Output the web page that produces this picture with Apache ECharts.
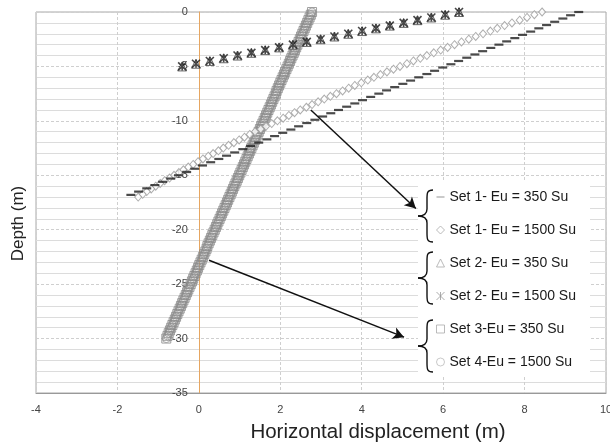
<!DOCTYPE html>
<html>
<head>
<meta charset="utf-8">
<script src="https://cdn.jsdelivr.net/npm/echarts@6/dist/echarts.min.js"></script>
<style>
  html, body { margin: 0; padding: 0; background: #fff; }
  #chart { width: 610px; height: 442px; }
</style>
</head>
<body>
<div id="chart"></div>
<script>
// depth (m) and horizontal displacement (m)
const set1Eu350Depth = [0, -0.3, -0.6, -0.9, -1.2, -1.5, -1.8, -2.1, -2.4, -2.7,
  -3, -3.3, -3.6, -3.9, -4.2, -4.5, -4.8, -5.1, -5.4, -5.7,
  -6, -6.3, -6.6, -6.9, -7.2, -7.5, -7.8, -8.1, -8.4, -8.7,
  -9, -9.3, -9.6, -9.9, -10.2, -10.5, -10.8, -11.1, -11.4, -11.7,
  -12, -12.3, -12.6, -12.9, -13.2, -13.5, -13.8, -14.1, -14.4, -14.7,
  -15, -15.3, -15.6, -15.9, -16.2, -16.5, -16.8];
const set1Eu350X = [9.33, 9.13, 8.94, 8.74, 8.54, 8.35, 8.15, 7.95, 7.76, 7.56,
  7.37, 7.17, 6.97, 6.78, 6.58, 6.38, 6.19, 5.99, 5.79, 5.60,
  5.40, 5.20, 5.01, 4.81, 4.61, 4.42, 4.22, 4.02, 3.83, 3.63,
  3.43, 3.24, 3.04, 2.85, 2.65, 2.45, 2.26, 2.06, 1.86, 1.67,
  1.47, 1.27, 1.08, 0.88, 0.68, 0.49, 0.29, 0.09, -0.10, -0.30,
  -0.50, -0.69, -0.89, -1.08, -1.28, -1.48, -1.67];

const set1Eu1500Depth = [0, -0.25, -0.5, -0.75, -1, -1.25, -1.5, -1.75, -2, -2.25,
  -2.5, -2.75, -3, -3.25, -3.5, -3.75, -4, -4.25, -4.5, -4.75,
  -5, -5.25, -5.5, -5.75, -6, -6.25, -6.5, -6.75, -7, -7.25,
  -7.5, -7.75, -8, -8.25, -8.5, -8.75, -9, -9.25, -9.5, -9.75,
  -10, -10.25, -10.5, -10.75, -11, -11.25, -11.5, -11.75, -12, -12.25,
  -12.5, -12.75, -13, -13.25, -13.5, -13.75, -14, -14.25, -14.5, -14.75,
  -15, -15.25, -15.5, -15.75, -16, -16.25, -16.5, -16.75, -17];
const set1Eu1500X = [8.43, 8.24, 8.06, 7.88, 7.69, 7.51, 7.33, 7.16, 6.98, 6.80,
  6.63, 6.45, 6.28, 6.11, 5.94, 5.77, 5.60, 5.44, 5.27, 5.11,
  4.94, 4.78, 4.62, 4.46, 4.30, 4.15, 3.99, 3.83, 3.68, 3.53,
  3.38, 3.23, 3.08, 2.93, 2.78, 2.64, 2.49, 2.35, 2.21, 2.07,
  1.93, 1.79, 1.65, 1.52, 1.38, 1.25, 1.12, 0.99, 0.86, 0.73,
  0.60, 0.48, 0.35, 0.23, 0.10, -0.02, -0.14, -0.26, -0.38, -0.49,
  -0.61, -0.72, -0.84, -0.95, -1.06, -1.17, -1.28, -1.38, -1.49];

// set 2: both moduli plot on the same points
const set2Depth = [0, -0.25, -0.5, -0.75, -1, -1.25, -1.5, -1.75, -2, -2.25,
  -2.5, -2.75, -3, -3.25, -3.5, -3.75, -4, -4.25, -4.5, -4.75, -5];
const set2Eu350X = [6.39, 6.05, 5.71, 5.37, 5.03, 4.69, 4.35, 4.01, 3.67, 3.33,
  2.99, 2.65, 2.31, 1.97, 1.63, 1.29, 0.95, 0.61, 0.27, -0.07, -0.41];
const set2Eu1500X = [6.39, 6.05, 5.71, 5.37, 5.03, 4.69, 4.35, 4.01, 3.67, 3.33,
  2.99, 2.65, 2.31, 1.97, 1.63, 1.29, 0.95, 0.61, 0.27, -0.07, -0.41];

// sets 3 and 4 overlap into one grey band
const set34Depth = [0, -0.25, -0.5, -0.75, -1, -1.25, -1.5, -1.75, -2, -2.25,
  -2.5, -2.75, -3, -3.25, -3.5, -3.75, -4, -4.25, -4.5, -4.75,
  -5, -5.25, -5.5, -5.75, -6, -6.25, -6.5, -6.75, -7, -7.25,
  -7.5, -7.75, -8, -8.25, -8.5, -8.75, -9, -9.25, -9.5, -9.75,
  -10, -10.25, -10.5, -10.75, -11, -11.25, -11.5, -11.75, -12, -12.25,
  -12.5, -12.75, -13, -13.25, -13.5, -13.75, -14, -14.25, -14.5, -14.75,
  -15, -15.25, -15.5, -15.75, -16, -16.25, -16.5, -16.75, -17, -17.25,
  -17.5, -17.75, -18, -18.25, -18.5, -18.75, -19, -19.25, -19.5, -19.75,
  -20, -20.25, -20.5, -20.75, -21, -21.25, -21.5, -21.75, -22, -22.25,
  -22.5, -22.75, -23, -23.25, -23.5, -23.75, -24, -24.25, -24.5, -24.75,
  -25, -25.25, -25.5, -25.75, -26, -26.25, -26.5, -26.75, -27, -27.25,
  -27.5, -27.75, -28, -28.25, -28.5, -28.75, -29, -29.25, -29.5, -29.75, -30];
const set3Eu350X = [2.78, 2.75, 2.72, 2.69, 2.66, 2.63, 2.60, 2.57, 2.54, 2.51,
  2.48, 2.45, 2.42, 2.39, 2.36, 2.33, 2.30, 2.27, 2.24, 2.21,
  2.18, 2.15, 2.12, 2.09, 2.06, 2.03, 2.00, 1.97, 1.94, 1.91,
  1.89, 1.86, 1.83, 1.80, 1.77, 1.74, 1.71, 1.68, 1.65, 1.62,
  1.59, 1.56, 1.53, 1.50, 1.47, 1.44, 1.41, 1.38, 1.35, 1.32,
  1.29, 1.26, 1.23, 1.20, 1.17, 1.14, 1.11, 1.08, 1.05, 1.02,
  0.99, 0.96, 0.93, 0.90, 0.87, 0.84, 0.81, 0.78, 0.75, 0.72,
  0.69, 0.66, 0.63, 0.60, 0.57, 0.54, 0.51, 0.48, 0.45, 0.42,
  0.39, 0.36, 0.33, 0.30, 0.27, 0.24, 0.21, 0.19, 0.16, 0.13,
  0.10, 0.07, 0.04, 0.01, -0.02, -0.05, -0.08, -0.11, -0.14, -0.17,
  -0.20, -0.23, -0.26, -0.29, -0.32, -0.35, -0.38, -0.41, -0.44, -0.47,
  -0.50, -0.53, -0.56, -0.59, -0.62, -0.65, -0.68, -0.71, -0.74, -0.77, -0.80];
const set4Eu1500X = set3Eu350X;

const seriesNames = ['Set 1- Eu = 350 Su', 'Set 1- Eu = 1500 Su', 'Set 2- Eu = 350 Su',
  'Set 2- Eu = 1500 Su', 'Set 3-Eu = 350 Su', 'Set 4-Eu = 1500 Su'];

// arrow annotations, [x, depth] start -> end
const arrows = [
  [[2.75, -9.0], [5.33, -18.05]],
  [[0.25, -22.8], [5.04, -29.87]]
];

const FONT = 'Liberation Sans, Arial, sans-serif';
const zip = (xs, ds) => xs.map((x, i) => [x, ds[i]]);
const ASTERISK = 'path://M0,0L10,10M10,0L0,10M5,0L5,10';

const WIDTH = 610;
const GRID_LEFT = 36;
const GRID_RIGHT = 4;
const X_MIN = -4, X_MAX = 10;
// the depth axis sits on x = 0, like the excel original
const Y_AXIS_SHIFT = -(WIDTH - GRID_LEFT - GRID_RIGHT) * (0 - X_MIN) / (X_MAX - X_MIN);

// curly brace drawn left of each legend pair
const braceStyle = { fill: 'none', stroke: '#111', lineWidth: 1.4 };
const brace = (x, top, bottom) => {
  const mid = (top + bottom) / 2;
  const curve = (x1, y1, cx1, cy1, cx2, cy2, x2, y2) => ({
    type: 'bezierCurve', z: 100,
    shape: { x1, y1, cpx1: cx1, cpy1: cy1, cpx2: cx2, cpy2: cy2, x2, y2 },
    style: braceStyle
  });
  const line = (x1, y1, x2, y2) => ({ type: 'line', z: 100, shape: { x1, y1, x2, y2 }, style: braceStyle });
  return [
    curve(x + 7, top, x + 1, top, x + 1, top + 3, x + 1, top + 9),
    line(x + 1, top + 9, x + 1, mid - 7),
    curve(x + 1, mid - 7, x + 1, mid - 2, x - 2, mid, x - 8, mid),
    curve(x - 8, mid, x - 2, mid, x + 1, mid + 2, x + 1, mid + 7),
    line(x + 1, mid + 7, x + 1, bottom - 9),
    curve(x + 1, bottom - 9, x + 1, bottom - 3, x + 1, bottom, x + 7, bottom)
  ];
};
const braces = [[190, 242], [252, 304], [320, 372]];

const chart = echarts.init(document.getElementById('chart'), null, { renderer: 'canvas' });

chart.setOption({
  animation: false,
  backgroundColor: '#fff',
  grid: {
    left: GRID_LEFT, right: GRID_RIGHT, top: 12, bottom: 49,
    containLabel: false,
    outerBoundsMode: 'none',
    show: true, borderColor: '#a8a8a8', borderWidth: 1
  },
  xAxis: {
    type: 'value', min: X_MIN, max: X_MAX, interval: 2,
    axisLine: { onZero: false, lineStyle: { color: '#999' } },
    axisTick: { show: false },
    axisLabel: { fontSize: 11, color: '#444', fontFamily: FONT, margin: 11 },
    splitLine: { lineStyle: { color: '#cfcfcf', type: [3, 2] } },
    name: 'Horizontal displacement (m)',
    nameLocation: 'middle',
    nameGap: 29,
    nameTextStyle: { fontSize: 20.5, color: '#222', fontFamily: FONT, padding: [0, 0, 0, 114] }
  },
  yAxis: {
    type: 'value', min: -35, max: 0, interval: 5,
    offset: Y_AXIS_SHIFT,
    axisLine: { onZero: false, lineStyle: { color: '#e6a661', width: 1 } },
    axisTick: { show: false },
    axisLabel: { fontSize: 11, color: '#444', fontFamily: FONT, margin: 11 },
    splitLine: { lineStyle: { color: '#cfcfcf', type: [3, 2] } },
    minorTick: { show: false, splitNumber: 5 },
    minorSplitLine: { show: true, lineStyle: { color: '#dcdcdc', width: 1 } },
    name: 'Depth (m)',
    nameLocation: 'middle',
    nameGap: 172,
    nameTextStyle: { fontSize: 17, color: '#222', fontFamily: FONT, padding: [0, 42, 0, 0] }
  },
  legend: {
    orient: 'vertical',
    left: 418, top: 182,
    padding: [8, 14, 8, 16],
    backgroundColor: '#fff',
    itemWidth: 8, itemHeight: 8,
    itemGap: 19,
    selectedMode: false,
    textStyle: { fontSize: 14, color: '#1a1a1a', fontFamily: FONT, lineHeight: 14 },
    data: [
      { name: seriesNames[0], icon: 'path://M0,0H10V1.4H0Z', itemStyle: { color: '#888', borderWidth: 0 } },
      { name: seriesNames[1], icon: 'diamond', itemStyle: { color: '#fff', borderColor: '#aaa', borderWidth: 1 } },
      { name: seriesNames[2], icon: 'triangle', itemStyle: { color: '#fff', borderColor: '#aaa', borderWidth: 1 } },
      { name: seriesNames[3], icon: ASTERISK, itemStyle: { color: 'none', borderColor: '#999', borderWidth: 1 } },
      { name: seriesNames[4], icon: 'rect', itemStyle: { color: '#fff', borderColor: '#aaa', borderWidth: 1 } },
      { name: seriesNames[5], icon: 'circle', itemStyle: { color: '#fff', borderColor: '#bbb', borderWidth: 1 } }
    ]
  },
  graphic: braces.flatMap(([top, bottom]) => brace(426, top, bottom)),
  series: [
    {
      name: seriesNames[5], type: 'scatter', z: 1,
      data: zip(set4Eu1500X, set34Depth),
      symbol: 'circle', symbolSize: 8,
      itemStyle: { color: 'rgba(0,0,0,0)', borderColor: '#9a9a9a', borderWidth: 1 }
    },
    {
      name: seriesNames[4], type: 'scatter', z: 2,
      data: zip(set3Eu350X, set34Depth),
      symbol: 'rect', symbolSize: 9,
      itemStyle: { color: 'rgba(0,0,0,0)', borderColor: '#8a8a8a', borderWidth: 1 }
    },
    {
      name: seriesNames[1], type: 'scatter', z: 3,
      data: zip(set1Eu1500X, set1Eu1500Depth),
      symbol: 'diamond', symbolSize: [7, 8],
      itemStyle: { color: '#fff', borderColor: '#9a9a9a', borderWidth: 1 }
    },
    {
      name: seriesNames[0], type: 'scatter', z: 4,
      data: zip(set1Eu350X, set1Eu350Depth),
      symbol: 'rect', symbolSize: [9, 2.2],
      itemStyle: { color: '#1e1e1e' },
      markLine: {
        silent: true,
        symbol: ['none', 'arrow'],
        symbolSize: [9, 11],
        label: { show: false },
        lineStyle: { color: '#111', width: 1.5, type: 'solid' },
        data: arrows.map(([a, b]) => [{ coord: a }, { coord: b }])
      }
    },
    {
      name: seriesNames[2], type: 'scatter', z: 4,
      data: zip(set2Eu350X, set2Depth),
      symbol: 'triangle', symbolSize: 9,
      itemStyle: { color: '#fff', borderColor: '#444', borderWidth: 1 }
    },
    {
      name: seriesNames[3], type: 'scatter', z: 5,
      data: zip(set2Eu1500X, set2Depth),
      symbol: ASTERISK, symbolSize: 8,
      itemStyle: { color: 'none', borderColor: '#1a1a1a', borderWidth: 1.6 }
    }
  ]
});
</script>
</body>
</html>
